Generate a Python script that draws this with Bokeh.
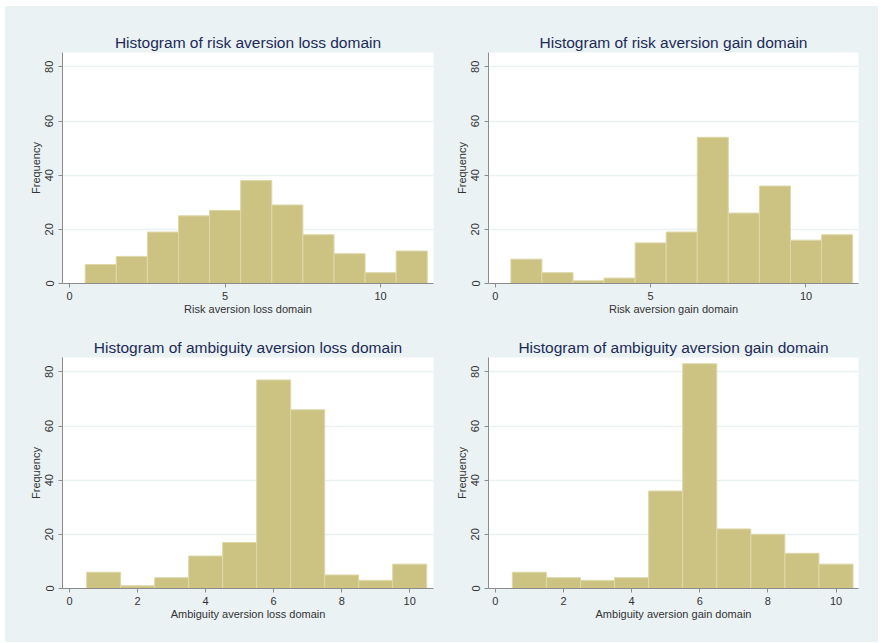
import math
from bokeh.plotting import figure
from bokeh.layouts import column, row
from bokeh.models import FixedTicker, Range1d
from bokeh.embed import file_html
from bokeh.resources import INLINE

# ---- data ----
risk_bins = [1, 2, 3, 4, 5, 6, 7, 8, 9, 10, 11]
risk_loss_freq = [7, 10, 19, 25, 27, 38, 29, 18, 11, 4, 12]
risk_gain_freq = [9, 4, 1, 2, 15, 19, 54, 26, 36, 16, 18]

amb_bins = [1, 2, 3, 4, 5, 6, 7, 8, 9, 10]
amb_loss_freq = [6, 1, 4, 12, 17, 77, 66, 5, 3, 9]
amb_gain_freq = [6, 4, 3, 4, 36, 83, 22, 20, 13, 9]

risk_xticks = [0, 5, 10]
amb_xticks = [0, 2, 4, 6, 8, 10]
y_ticks = [0, 20, 40, 60, 80]

titles = ["Histogram of risk aversion loss domain",
          "Histogram of risk aversion gain domain",
          "Histogram of ambiguity aversion loss domain",
          "Histogram of ambiguity aversion gain domain"]
xlabels = ["Risk aversion loss domain", "Risk aversion gain domain",
           "Ambiguity aversion loss domain", "Ambiguity aversion gain domain"]

BG = "#EAF2F3"
BAR = "#CCC383"
BAR_LINE = "#DDD8A9"
AXIS = "#8C8C8C"
FONT = "Liberation Sans"


def make(title, xlabel, bins, freq, xticks, xr, w, left, right, top, bottom):
    p = figure(width=w, height=318, output_backend="svg", toolbar_location=None,
               x_range=Range1d(*xr), y_range=Range1d(0, 85.3),
               min_border_left=left, min_border_right=right,
               min_border_top=top, min_border_bottom=bottom)
    p.border_fill_color = BG
    p.background_fill_color = "white"
    p.outline_line_color = None
    p.vbar(x=bins, top=freq, bottom=0, width=1, fill_color=BAR,
           line_color=BAR_LINE, line_width=1)
    p.title.text = title
    p.title.align = "center"
    p.title.text_font = FONT
    p.title.text_font_size = "15.5px"
    p.title.text_font_style = "normal"
    p.title.text_color = "#1C2A58"
    p.title.standoff = 3
    p.title.offset = 0

    p.xaxis.ticker = FixedTicker(ticks=xticks)
    p.yaxis.ticker = FixedTicker(ticks=y_ticks)
    p.xaxis.axis_label = xlabel
    p.yaxis.axis_label = "Frequency"
    for ax in (p.xaxis[0], p.yaxis[0]):
        ax.axis_line_color = AXIS
        ax.major_tick_line_color = AXIS
        ax.major_tick_out = 4
        ax.major_tick_in = 0
        ax.minor_tick_line_color = None
        ax.major_label_text_font = FONT
        ax.major_label_text_font_size = "11px"
        ax.major_label_text_color = "#333333"
        ax.axis_label_text_font = FONT
        ax.axis_label_text_font_size = "11px"
        ax.axis_label_text_font_style = "normal"
        ax.axis_label_text_color = "#333333"
    p.xaxis.major_label_standoff = 4
    p.xaxis.axis_label_standoff = 0
    p.yaxis.major_label_standoff = 5
    p.yaxis.axis_label_standoff = 1
    p.yaxis.major_label_orientation = "parallel"
    p.xgrid.grid_line_color = None
    p.ygrid.grid_line_color = BG
    p.ygrid.grid_line_width = 1.5
    return p


p1 = make(titles[0], xlabels[0], risk_bins, risk_loss_freq, risk_xticks,
          (-0.23, 11.7), 436, 57, 8, 46, 41)
p2 = make(titles[1], xlabels[1], risk_bins, risk_gain_freq, risk_xticks,
          (-0.22, 11.69), 437, 47, 20, 46, 41)
p3 = make(titles[2], xlabels[2], amb_bins, amb_loss_freq, amb_xticks,
          (-0.21, 10.7), 436, 57, 8, 33, 54)
p4 = make(titles[3], xlabels[3], amb_bins, amb_gain_freq, amb_xticks,
          (-0.2, 10.66), 437, 47, 20, 33, 54)

layout = column(row(p1, p2, spacing=0, styles={"background-color": BG}),
                row(p3, p4, spacing=0, styles={"background-color": BG}),
                spacing=0, styles={"background-color": BG},
                margin=(6, 0, 0, 5))

open("out.html", "w").write(file_html(layout, INLINE))
